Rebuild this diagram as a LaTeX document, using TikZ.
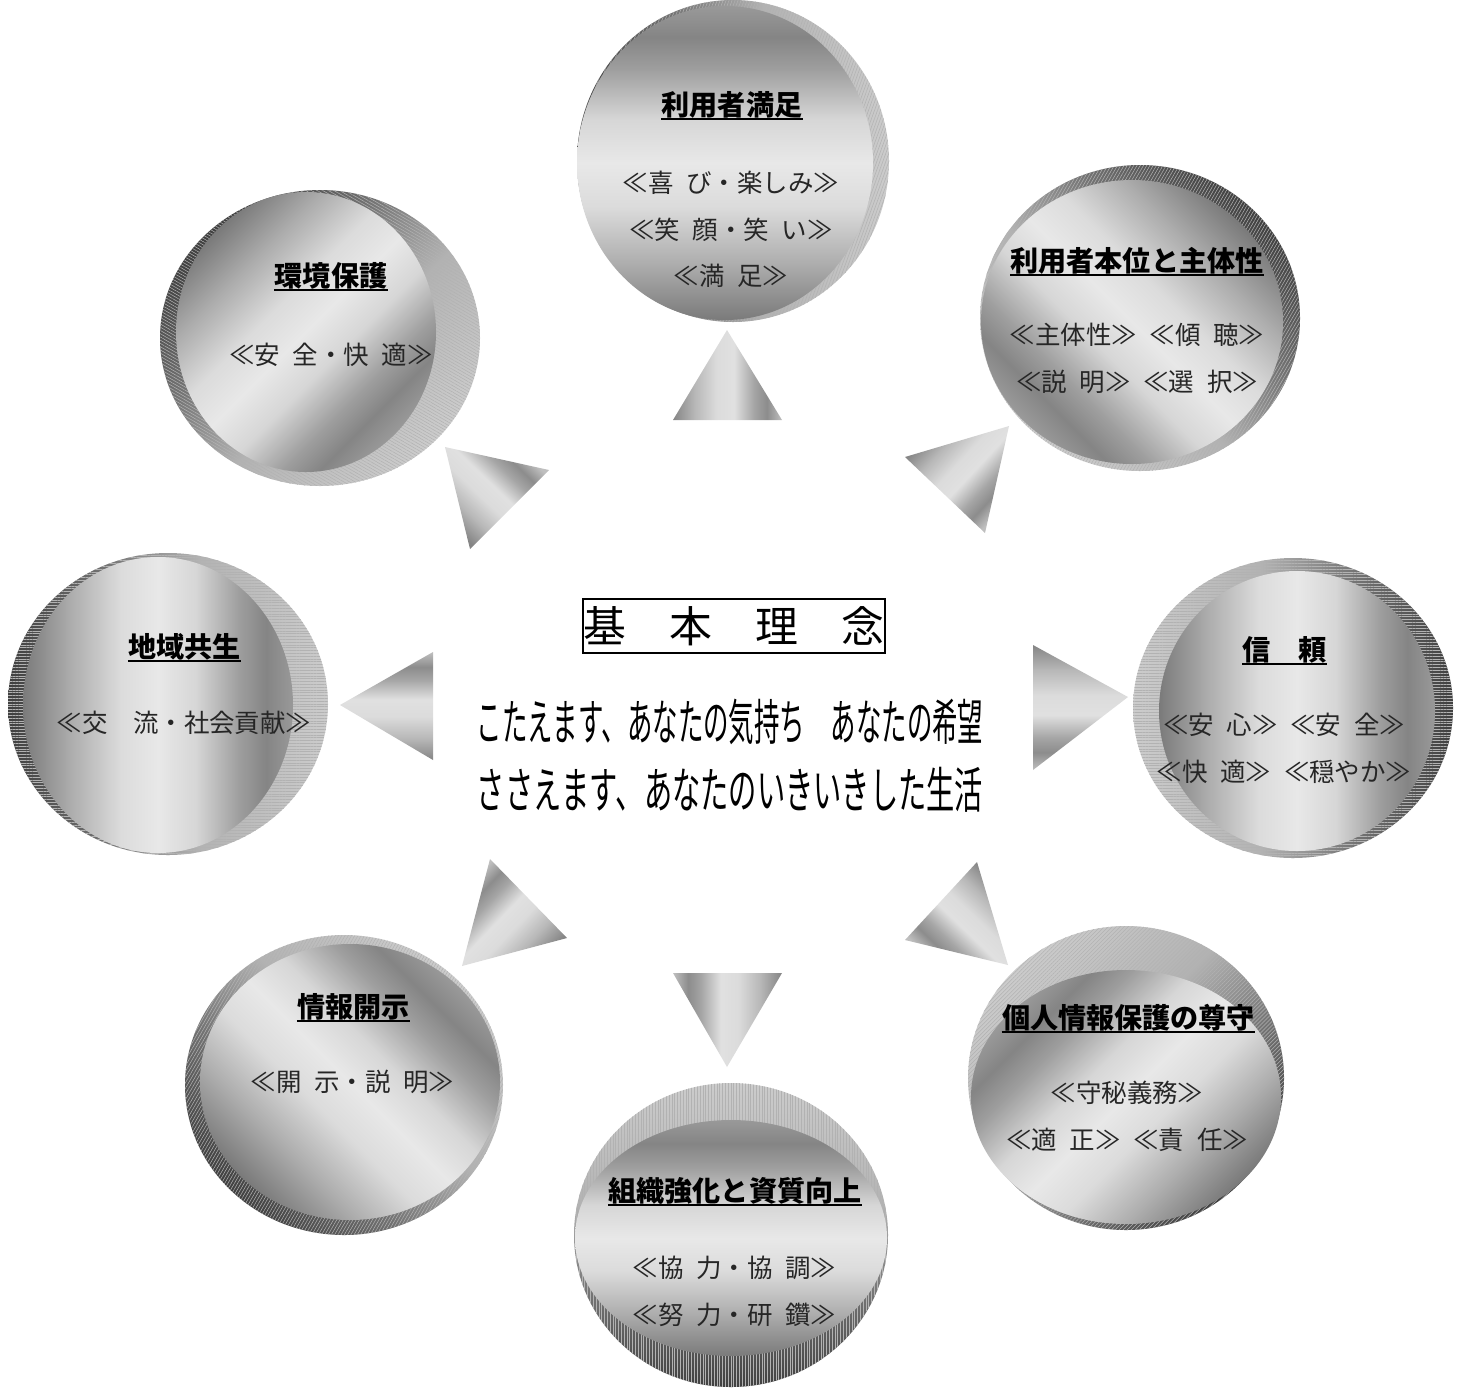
\documentclass[tikz,border=0pt]{standalone}
\usepackage{graphicx}
\usepackage{fontspec}
\setmainfont{Noto Sans CJK JP}
\usetikzlibrary{patterns.meta}
\newcommand{\hs}{\hspace{.5em}}

% metallic shadings
\pgfdeclarehorizontalshading{metal}{100bp}{color(0bp)=(black!55); color(25bp)=(black!52); color(34bp)=(black!32); color(43bp)=(black!14); color(50bp)=(black!9); color(57bp)=(black!16); color(65bp)=(black!38); color(70bp)=(black!48); color(75bp)=(black!40); color(100bp)=(black!40)}
\pgfdeclarehorizontalshading{rimshade}{100bp}{color(0bp)=(black!78); color(25bp)=(black!75); color(40bp)=(black!55); color(55bp)=(black!30); color(75bp)=(black!20); color(100bp)=(black!20)}
\pgfdeclarehorizontalshading{pointershade}{100bp}{color(0bp)=(black!50); color(25bp)=(black!48); color(35bp)=(black!28); color(45bp)=(black!14); color(53bp)=(black!12); color(62bp)=(black!35); color(68bp)=(black!45); color(75bp)=(black!25); color(100bp)=(black!25)}

\begin{document}
\begin{tikzpicture}[
    x=0.02cm, y=-0.02cm,
    coinrim/.style={shading=rimshade},
    coinface/.style={shading=metal},
    pointer/.style={shading=pointershade},
    ttl/.style={font=\fontsize{16}{19}\selectfont\bfseries, anchor=south, inner xsep=0pt, inner ysep=1pt, text height=13.1pt, text depth=0.9pt},
    sub/.style={font=\fontsize{14.5}{26.6}\selectfont, text=black!85, align=center, inner sep=0pt},
    uline/.style={line width=1.1pt},
    motto/.style={font=\fontsize{28}{32}\selectfont, inner sep=0pt},
    rinen/.style={draw, line width=0.9pt, font=\fontsize{24.4}{28}\selectfont, inner xsep=0.6pt, inner ysep=3.3pt, text height=21.5pt, text depth=2.9pt}
]
    \useasboundingbox (0,0) rectangle (1463,1387);

    % Coins: rim behind, face in front
    \foreach \bx/\by/\brx/\bry/\fx/\fy/\frx/\fry/\fa/\ra/\ha in {
         733/161/156/161/725/163/148/157/90/0/70,        % riyou
        1140/318/160/153/1132/322/151/142/225/225/60,    % honi
         320/338/160/148/306/332/130/140/315/315/-30,    % kankyo
         168/704/160/151/158/705/135/148/0/0/0,          % chiiki
        1293/708/160/150/1297/711/138/140/0/180/0,       % shinrai
        1126/1078/158/152/1126/1097/155/127/135/135/45,  % kojin
         344/1085/159/150/350/1082/150/138/45/45/60,     % joho
         731/1235/157/152/731/1238/156/118/90/90/90%     soshiki
    }{
        \shade[coinrim, shading angle=\ra, postaction={pattern={Lines[angle=\ha, distance=1.6pt, line width=.3pt]}, pattern color=black!30}]
            (\bx,\by) ellipse [x radius=\brx, y radius=\bry];
        \shade[coinface, shading angle=\fa] (\fx,\fy) ellipse [x radius=\frx, y radius=\fry];
    }

    % Pointers from the centre
    \shade[pointer, shading angle=0] (727,330) -- (782,420) -- (673,420) -- cycle;
    \shade[pointer, shading angle=-43] (1009,426) -- (985,533) -- (905,457) -- cycle;
    \shade[pointer, shading angle=46] (445,447) -- (549,470) -- (470,549) -- cycle;
    \shade[pointer, shading angle=90] (340,705) -- (433,652) -- (433,760) -- cycle;
    \shade[pointer, shading angle=-90] (1128,697) -- (1033,645) -- (1033,770) -- cycle;
    \shade[pointer, shading angle=136] (462,966) -- (490,859) -- (567,938) -- cycle;
    \shade[pointer, shading angle=180] (727,1067) -- (673,973) -- (782,973) -- cycle;
    \shade[pointer, shading angle=-134] (1008,965) -- (905,940) -- (977,862) -- cycle;

    % Centre texts
    \node[rinen] (rinen) at (734,626) {基　本　理　念};
    \node[motto] (kotae) at (730,722) {\scalebox{0.517}[1]{こたえます、あなたの気持ち　あなたの希望}};
    \node[motto] (sasae) at (730,790) {\scalebox{0.574}[1]{ささえます、あなたのいきいきした生活}};

    % Coin titles and keywords
    \node[ttl] (riyou-t) at (732,119) {利用者満足};
    \node[sub] (riyou-s) at (731,229.5) {≪喜\hs び・楽しみ≫\\≪笑\hs 顔・笑\hs い≫\\≪満\hs 足≫};

    \node[ttl] (honi-t) at (1137,275) {利用者本位と主体性};
    \node[sub] (honi-s) at (1137,358.5) {≪主体性≫\hs≪傾\hs 聴≫\\≪説\hs 明≫\hs≪選\hs 択≫};

    \node[ttl] (kankyo-t) at (331,290) {環境保護};
    \node[sub] (kankyo-s) at (331,355) {≪安\hs 全・快\hs 適≫};

    \node[ttl] (chiiki-t) at (184.5,661) {地域共生};
    \node[sub] (chiiki-s) at (184,723) {≪交　流・社会貢献≫};

    \node[ttl] (shinrai-t) at (1284.5,664) {信　頼};
    \node[sub] (shinrai-s) at (1284,748.5) {≪安\hs 心≫\hs≪安\hs 全≫\\≪快\hs 適≫\hs≪穏やか≫};

    \node[ttl] (kojin-t) at (1128.5,1032) {個人情報保護の尊守};
    \node[sub] (kojin-s) at (1127,1116.5) {≪守秘義務≫\\≪適\hs 正≫\hs≪責\hs 任≫};

    \node[ttl] (joho-t) at (353.5,1021) {情報開示};
    \node[sub] (joho-s) at (352.5,1082) {≪開\hs 示・説\hs 明≫};

    \node[ttl] (soshiki-t) at (735,1205) {組織強化と資質向上};
    \node[sub] (soshiki-s) at (734.5,1291.5) {≪協\hs 力・協\hs 調≫\\≪努\hs 力・研\hs 鑽≫};

    % Underlines
    \foreach \t in {riyou-t,honi-t,kankyo-t,chiiki-t,shinrai-t,kojin-t,joho-t,soshiki-t}
        \draw[uline] (\t.south west) -- (\t.south east);
\end{tikzpicture}
\end{document}
